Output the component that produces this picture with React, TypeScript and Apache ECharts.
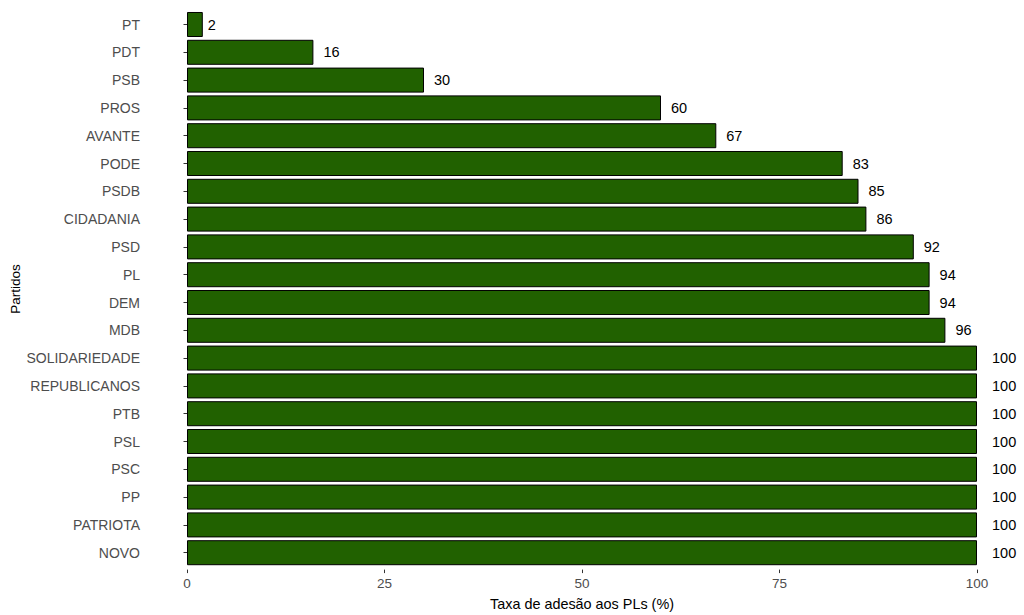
import React, { useEffect, useRef } from "react";
import * as echarts from "echarts";

const partidos = [
  "PT", "PDT", "PSB", "PROS", "AVANTE", "PODE", "PSDB", "CIDADANIA", "PSD", "PL",
  "DEM", "MDB", "SOLIDARIEDADE", "REPUBLICANOS", "PTB", "PSL", "PSC", "PP", "PATRIOTA", "NOVO",
];
const taxas = [2, 16, 30, 60, 67, 83, 85, 86, 92, 94, 94, 96, 100, 100, 100, 100, 100, 100, 100, 100];
const xTicks = [0, 25, 50, 75, 100];

export default function App() {
  const ref = useRef<HTMLDivElement>(null);
  useEffect(() => {
    if (!ref.current) return;
    const chart = echarts.init(ref.current, null, { renderer: "svg" });
    const font = "Liberation Sans, Arial, sans-serif";
    chart.setOption({
      animation: false,
      backgroundColor: "#ffffff",
      grid: {
        left: 187,
        right: 47,
        top: 10.6,
        bottom: 48.4,
        containLabel: false,
        outerBoundsMode: "none",
      },
      xAxis: {
        type: "value",
        min: xTicks[0],
        max: xTicks[xTicks.length - 1],
        interval: 25,
        offset: 3,
        name: "Taxa de adesão aos PLs (%)",
        nameLocation: "middle",
        nameGap: 27,
        nameTextStyle: { color: "#000", fontSize: 14.4, fontFamily: font },
        axisLine: { show: true, lineStyle: { color: "#333", opacity: 0 } },
        axisTick: { show: true, length: 3.5, lineStyle: { color: "#333", opacity: 1 } },
        axisLabel: { color: "#4d4d4d", fontSize: 13.5, fontFamily: font, margin: 7 },
        splitLine: { show: false },
      },
      yAxis: {
        type: "category",
        data: partidos,
        inverse: true,
        offset: 39,
        axisLine: { show: true, lineStyle: { color: "#333", opacity: 0 } },
        axisTick: { show: true, length: 3.5, alignWithLabel: true, lineStyle: { color: "#333", opacity: 1 } },
        axisLabel: { color: "#4d4d4d", fontSize: 14, fontFamily: font, margin: 8 },
        splitLine: { show: false },
      },
      graphic: [
        {
          type: "text",
          x: 15,
          y: 289,
          rotation: Math.PI / 2,
          style: {
            text: "Partidos",
            fill: "#000",
            fontSize: 13.5,
            fontFamily: font,
            align: "center",
            verticalAlign: "middle",
          },
        },
      ],
      series: [
        {
          type: "bar",
          barCategoryGap: "10%",
          data: taxas.map((v) => ({
            value: v,
            label: { distance: 5 * String(v).length },
          })),
          itemStyle: { color: "#216100", borderColor: "#000", borderWidth: 1 },
          label: {
            show: true,
            position: "right",
            color: "#000",
            fontSize: 14.5,
            fontFamily: font,
          },
        },
      ],
    });
    return () => chart.dispose();
  }, []);
  return <div ref={ref} style={{ width: 1024, height: 615, position: "absolute", left: 0, top: 0 }} />;
}
